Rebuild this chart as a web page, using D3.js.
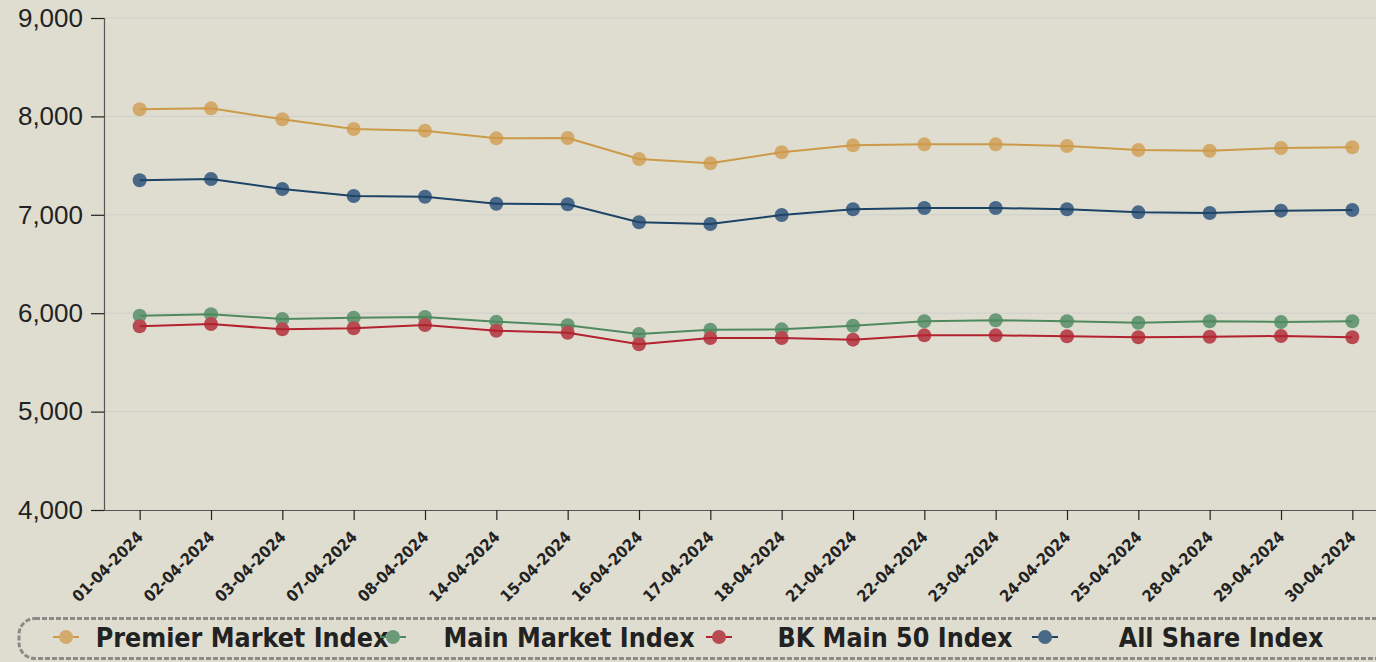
<!DOCTYPE html>
<html>
<head>
<meta charset="utf-8">
<script src="https://cdn.jsdelivr.net/npm/d3@7"></script>
<style>
  html, body { margin: 0; padding: 0; background: #dfddd0; overflow: hidden; }
  svg { display: block; }
  .cond { font-family: "DejaVu Sans Condensed", "DejaVu Sans", sans-serif; font-stretch: condensed; font-weight: bold; }
</style>
</head>
<body>
<svg id="chart" width="1376" height="662"></svg>
<script>
const dates = ["01-04-2024","02-04-2024","03-04-2024","07-04-2024","08-04-2024","14-04-2024","15-04-2024","16-04-2024","17-04-2024","18-04-2024","21-04-2024","22-04-2024","23-04-2024","24-04-2024","25-04-2024","28-04-2024","29-04-2024","30-04-2024"];
const seriesNames = ["Premier Market Index","Main Market Index","BK Main 50 Index","All Share Index"];
const premier = [8072,8082,7971,7872,7855,7777,7780,7567,7523,7635,7706,7716,7716,7699,7659,7651,7679,7686];
const mainMarket = [5975,5990,5941,5954,5961,5914,5877,5789,5832,5836,5873,5918,5928,5918,5903,5918,5911,5918];
const bkMain50 = [5867,5890,5836,5847,5880,5822,5802,5684,5748,5748,5731,5775,5775,5765,5755,5761,5768,5755];
const allShare = [7351,7364,7262,7191,7184,7113,7107,6924,6907,6998,7056,7069,7069,7056,7025,7018,7042,7049];
const yTicks = [4000,5000,6000,7000,8000,9000];
const lineColors = ["#cc9a48","#4f8a5f","#b3222f","#1d4466"];
const dotColors = ["#d4aa6c","#6b9a79","#b84a52","#4a6988"];

const allSeries = [premier, mainMarket, bkMain50, allShare];

const svg = d3.select("#chart");
const mLeft = 104, mTop = 18, mBottom = 510, mRight = 1388;

const x = d3.scalePoint().domain(dates).range([mLeft, mRight]).padding(0.5);
const y = d3.scaleLinear().domain([4000, 9000]).range([mBottom, mTop]);

// grid
svg.append("g").selectAll("line").data(yTicks.slice(1)).join("line")
  .attr("x1", mLeft).attr("x2", 1376)
  .attr("y1", d => y(d)).attr("y2", d => y(d))
  .attr("stroke", "#cfcfcb").attr("stroke-width", 1);

// y axis
const yAxis = svg.append("g").attr("transform", `translate(${mLeft},0)`)
  .call(d3.axisLeft(y).tickValues(yTicks).tickFormat(d3.format(",")).tickSize(13).tickPadding(8));
yAxis.select(".domain").attr("stroke", "#555").attr("stroke-width", 1.2);
yAxis.selectAll(".tick line").attr("stroke", "#222").attr("stroke-width", 1.2);
yAxis.selectAll("text").attr("font-family", "Liberation Sans, Arial, sans-serif")
  .attr("font-size", 26).attr("fill", "#222");

// x axis
const xAxis = svg.append("g").attr("transform", `translate(0,${mBottom})`)
  .call(d3.axisBottom(x).tickSize(10).tickSizeOuter(0));
xAxis.select(".domain").attr("stroke", "#555").attr("stroke-width", 1.2);
xAxis.selectAll(".tick line").attr("stroke", "#222").attr("stroke-width", 1.2);
xAxis.selectAll("text")
  .attr("class", "cond")
  .attr("font-size", 16).attr("fill", "#222")
  .attr("text-anchor", "end")
  .attr("y", 0).attr("dy", 0)
  .attr("transform", "translate(4,28) rotate(-45)");

// series
const line = d3.line().x((d, i) => x(dates[i])).y(d => y(d));
allSeries.forEach((vals, si) => {
  const g = svg.append("g");
  g.selectAll("circle").data(vals).join("circle")
    .attr("cx", (d, i) => x(dates[i])).attr("cy", d => y(d))
    .attr("r", 7).attr("fill", dotColors[si]);
  g.append("path").datum(vals).attr("d", line)
    .attr("fill", "none").attr("stroke", lineColors[si]).attr("stroke-width", 2);
});

// legend
const lg = svg.append("g");
lg.append("rect").attr("x", 19).attr("y", 618.5).attr("width", 1400).attr("height", 40)
  .attr("rx", 16).attr("fill", "none").attr("stroke", "#8a8a88")
  .attr("stroke-width", 3).attr("stroke-dasharray", "5,2");
const legX = [66, 393, 719, 1045];
seriesNames.forEach((name, i) => {
  const cx = legX[i], cy = 637;
  lg.append("line").attr("x1", cx - 13).attr("x2", cx + 13).attr("y1", cy).attr("y2", cy)
    .attr("stroke", lineColors[i]).attr("stroke-width", 2);
  lg.append("circle").attr("cx", cx).attr("cy", cy).attr("r", 7).attr("fill", dotColors[i]);
  lg.append("text").attr("x", cx + 176).attr("y", 647)
    .attr("text-anchor", "middle").attr("class", "cond")
    .attr("font-size", 26.6).attr("fill", "#222").text(name);
});
</script>
</body>
</html>
